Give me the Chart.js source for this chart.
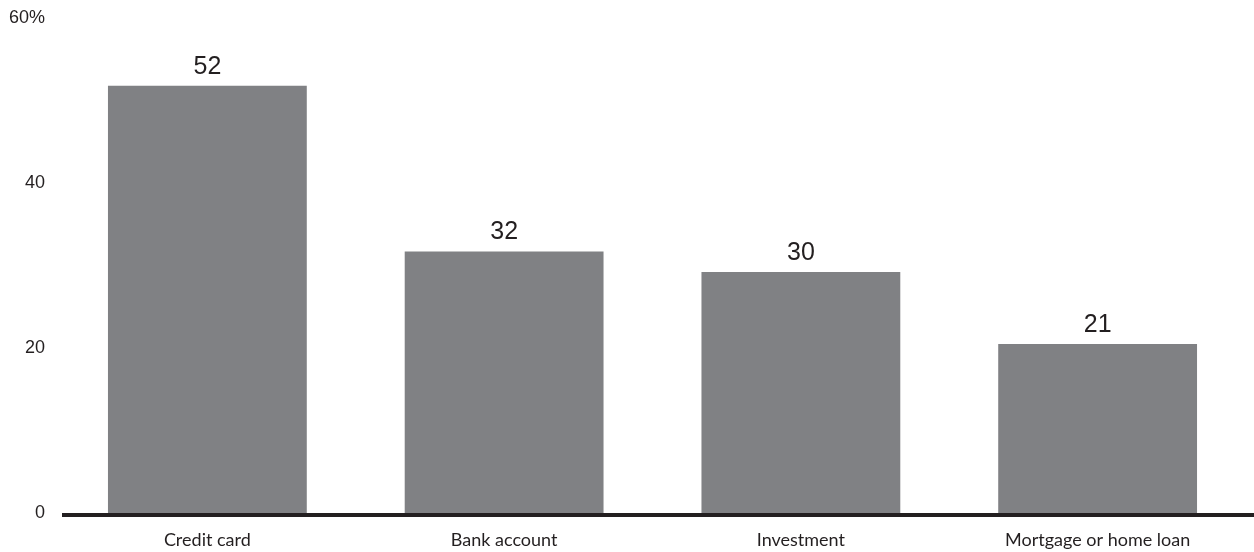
<!DOCTYPE html>
<html>
<head>
<meta charset="utf-8">
<script src="https://cdn.jsdelivr.net/npm/chart.js@4"></script>
<style>
  html, body { margin: 0; padding: 0; background: #fff; }
  #wrap { width: 1254px; height: 552px; }
</style>
</head>
<body>
<div id="wrap"><canvas id="chart"></canvas></div>
<script>
"use strict"

// données
const categories = ['Credit card', 'Bank account', 'Investment', 'Mortgage or home loan'];
const shares = [51.8, 31.7, 29.2, 20.5];
const shareLabels = ['52', '32', '30', '21'];
const yTicks = [0, 20, 40, 60];

const ink = '#231f20';
const barColor = '#808184';
const labelFont = 'Lato, "Noto Sans", sans-serif';
const numberFont = '"Liberation Sans", Arial, sans-serif';

// valeurs au-dessus des barres + ligne de base
const barLabels = {
    id: 'barLabels',
    afterDatasetsDraw(chart) {
        const ctx = chart.ctx;
        const meta = chart.getDatasetMeta(0);
        ctx.save();
        ctx.fillStyle = ink;
        ctx.font = '25px ' + numberFont;
        ctx.textAlign = 'center';
        ctx.textBaseline = 'alphabetic';
        meta.data.forEach(function (bar, i) {
            ctx.fillText(shareLabels[i], bar.x, bar.y - 12);
        });
        const y0 = chart.scales.y.getPixelForValue(0);
        ctx.fillRect(chart.scales.x.left + 3, y0, chart.width, 4);
        ctx.restore();
    }
};

const ctx = document.getElementById('chart').getContext('2d');

new Chart(ctx, {
    type: 'bar',
    data: {
        labels: categories,
        datasets: [{
            data: shares,
            backgroundColor: barColor,
            barPercentage: 0.67,
            categoryPercentage: 1
        }]
    },
    options: {
        responsive: true,
        maintainAspectRatio: false,
        animation: false,
        layout: { padding: { top: 18, right: 8, left: 0, bottom: 0 } },
        plugins: {
            legend: { display: false },
            tooltip: { enabled: false }
        },
        scales: {
            x: {
                afterFit: function (scale) { scale.height = 39; },
                grid: { display: false, drawTicks: false },
                border: { display: false },
                ticks: {
                    color: ink,
                    padding: 16,
                    font: { family: labelFont, size: 18 }
                }
            },
            y: {
                min: 0,
                max: 60,
                afterFit: function (scale) {
                    scale.width = 59;
                    scale.paddingTop = 0;
                    scale.paddingBottom = 0;
                },
                afterBuildTicks: function (scale) {
                    scale.ticks = yTicks.map(v => ({ value: v }));
                },
                grid: { display: false, drawTicks: false },
                border: { display: false },
                ticks: {
                    color: ink,
                    padding: 14,
                    font: { family: numberFont, size: 18 },
                    callback: function (value) {
                        return value === 60 ? '60%' : value;
                    }
                }
            }
        }
    },
    plugins: [barLabels]
});
</script>
</body>
</html>
